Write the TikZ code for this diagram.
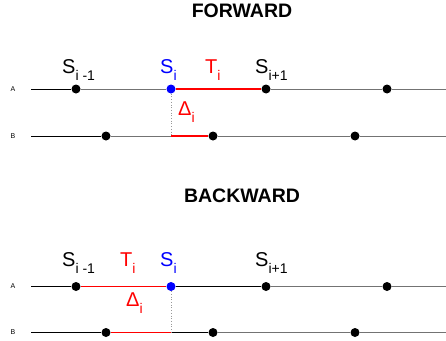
\documentclass[tikz,border=0pt]{standalone}
\usepackage{fontspec}
\setmainfont{Liberation Sans}
\usetikzlibrary{positioning}
\tikzstyle{dot} = [circle, fill=black, inner sep=0pt, minimum size=9pt]
\tikzstyle{sdot} = [dot, fill=blue]
\tikzstyle{lbl} = [anchor=base west, inner sep=0pt, font=\fontsize{20}{20}\selectfont]
\tikzstyle{heading} = [anchor=base, inner sep=0pt, font=\fontsize{19.5}{19.5}\selectfont\bfseries]
\tikzstyle{track} = [inner sep=0pt, font=\fontsize{7}{7}\selectfont]
\tikzstyle{blk} = [line width=0.8pt, black]
\tikzstyle{gry} = [line width=0.8pt, black!55]
\tikzstyle{span} = [line width=1.6pt, red]
\tikzstyle{link} = [dotted, black!40, line width=0.7pt]
\newcommand{\lowidx}[1]{\raisebox{-7pt}{\fontsize{14}{14}\selectfont #1}}

\begin{document}
\begin{tikzpicture}[x=1pt, y=-1pt]
\useasboundingbox (0,0) rectangle (446,340);

% FORWARD
\node[heading] (ftitle) at (242,17) {FORWARD};
\node[track] (fA) at (13,89) {A};
\node[track] (fB) at (13,136) {B};
\coordinate (fAstart) at (31,89);
\coordinate (fAend) at (446,89);
\coordinate (fBstart) at (31,136);
\coordinate (fBend) at (446,136);
\node[dot] (fa1) at (76,89) {};
\node[sdot] (fs) at (171,89) {};
\node[dot] (fa3) at (266,89) {};
\node[dot] (fa4) at (387,89) {};
\node[dot] (fb1) at (106,136) {};
\coordinate (fx) at (171,136);
\node[dot] (fb2) at (213,136) {};
\node[dot] (fb3) at (355,136) {};

\draw[blk] (fAstart) -- (fa1);
\draw[gry] (fa1) -- (fs);
\draw[span] (fs) -- (fa3);
\draw[gry] (fa3) -- (fa4);
\draw[gry] (fa4) -- (fAend);
\draw[blk] (fBstart) -- (fb1);
\draw[gry] (fb1) -- (fx);
\draw[span] (fx) -- (fb2);
\draw[gry] (fb2) -- (fb3);
\draw[gry] (fb3) -- (fBend);
\draw[link] (fs) -- (fx);

\node[lbl] (fsprev) at (62,73) {S\lowidx{i -1}};
\node[lbl, text=blue] (fscur) at (160,73) {S\lowidx{i}};
\node[lbl, text=red] (ft) at (205,73) {T\lowidx{i}};
\node[lbl] (fsnext) at (255,73) {S\lowidx{i+1}};
\node[lbl, text=red] (fdelta) at (178,115) {Δ\lowidx{i}};

% BACKWARD
\node[heading] (btitle) at (242,202) {BACKWARD};
\node[track] (bA) at (13,286.5) {A};
\node[track] (bB) at (13,332.5) {B};
\coordinate (bAstart) at (31,286.5);
\coordinate (bAend) at (446,286.5);
\coordinate (bBstart) at (31,332.5);
\coordinate (bBend) at (446,332.5);
\node[dot] (ba1) at (76,286.5) {};
\node[sdot] (bs) at (171,286.5) {};
\node[dot] (ba3) at (266,286.5) {};
\node[dot] (ba4) at (387,286.5) {};
\node[dot] (bb1) at (106,332.5) {};
\coordinate (bx) at (171,332.5);
\node[dot] (bb2) at (213,332.5) {};
\node[dot] (bb3) at (355,332.5) {};

\draw[blk] (bAstart) -- (ba1);
\draw[span] (ba1) -- (bs);
\draw[blk] (bs) -- (ba3);
\draw[gry] (ba3) -- (ba4);
\draw[gry] (ba4) -- (bAend);
\draw[blk] (bBstart) -- (bb1);
\draw[span] (bb1) -- (bx);
\draw[blk] (bx) -- (bb2);
\draw[gry] (bb2) -- (bb3);
\draw[gry] (bb3) -- (bBend);
\draw[link] (bs) -- (bx);

\node[lbl] (bsprev) at (62,266.5) {S\lowidx{i -1}};
\node[lbl, text=red] (bt) at (120,266.5) {T\lowidx{i}};
\node[lbl, text=blue] (bscur) at (160,266.5) {S\lowidx{i}};
\node[lbl] (bsnext) at (255,266.5) {S\lowidx{i+1}};
\node[lbl, text=red] (bdelta) at (126,306.5) {Δ\lowidx{i}};

\end{tikzpicture}
\end{document}
